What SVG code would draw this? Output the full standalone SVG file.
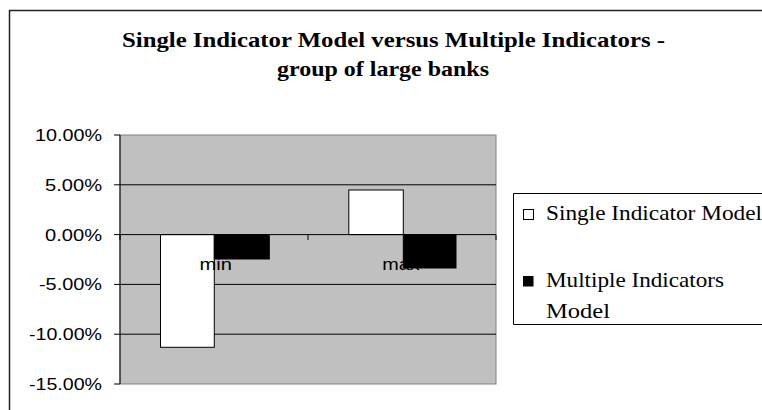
<svg xmlns="http://www.w3.org/2000/svg" width="762" height="410" viewBox="0 0 762 410">
  <style>
    .title { font-family: 'Liberation Serif', 'DejaVu Serif', 'Times New Roman', Times, serif; font-weight: bold; font-size: 22px; fill: #000; }
    .axis { font-family: 'Liberation Sans', Arial, Helvetica, sans-serif; font-size: 17px; fill: #000; }
    .legend { font-family: 'Liberation Serif', 'DejaVu Serif', 'Times New Roman', Times, serif; font-size: 21px; fill: #000; }
    .grid { stroke: #000; stroke-width: 1; }
    .tick { stroke: #000; stroke-width: 1; }
    .bar-single { fill: #fff; stroke: #000; stroke-width: 1; }
    .bar-multi { fill: #000; stroke: #000; stroke-width: 1; }
  </style>

  <!-- white page -->
  <rect x="0" y="0" width="762" height="410" fill="#fff"/>

  <!-- chart frame (continues past the right and bottom edges) -->
  <g id="chart-frame">
    <path d="M9.5 411 V10.5 H763" fill="none" stroke="#222" stroke-width="1.5"/>
  </g>

  <!-- title -->
  <g id="title">
    <text class="title" x="122" y="47" textLength="543" lengthAdjust="spacingAndGlyphs">Single Indicator Model versus Multiple Indicators -</text>
    <text class="title" x="277" y="76" textLength="212" lengthAdjust="spacingAndGlyphs">group of large banks</text>
  </g>

  <!-- plot area -->
  <g id="plot-area">
    <rect x="120" y="135" width="376" height="249" fill="#c0c0c0" stroke="#808080" stroke-width="1"/>
    <g id="gridlines">
      <line class="grid" x1="120" y1="184.8" x2="496" y2="184.8"/>
      <line class="grid" x1="120" y1="284.4" x2="496" y2="284.4"/>
      <line class="grid" x1="120" y1="334.2" x2="496" y2="334.2"/>
    </g>
  </g>

  <!-- value axis -->
  <g id="value-axis">
    <line class="tick" x1="120" y1="135" x2="120" y2="384"/>
    <line class="tick" x1="114" y1="135" x2="120" y2="135"/>
    <line class="tick" x1="114" y1="184.8" x2="120" y2="184.8"/>
    <line class="tick" x1="114" y1="234.6" x2="120" y2="234.6"/>
    <line class="tick" x1="114" y1="284.4" x2="120" y2="284.4"/>
    <line class="tick" x1="114" y1="334.2" x2="120" y2="334.2"/>
    <line class="tick" x1="114" y1="384" x2="120" y2="384"/>
    <text class="axis" x="102" y="141" text-anchor="end" textLength="67" lengthAdjust="spacingAndGlyphs">10.00%</text>
    <text class="axis" x="102" y="191" text-anchor="end" textLength="57" lengthAdjust="spacingAndGlyphs">5.00%</text>
    <text class="axis" x="102" y="240.5" text-anchor="end" textLength="57" lengthAdjust="spacingAndGlyphs">0.00%</text>
    <text class="axis" x="102" y="290.3" text-anchor="end" textLength="63" lengthAdjust="spacingAndGlyphs">-5.00%</text>
    <text class="axis" x="102" y="340" text-anchor="end" textLength="73" lengthAdjust="spacingAndGlyphs">-10.00%</text>
    <text class="axis" x="102" y="390" text-anchor="end" textLength="73" lengthAdjust="spacingAndGlyphs">-15.00%</text>
  </g>

  <!-- Single Indicator Model series -->
  <g id="series-single">
    <rect id="single-min" class="bar-single" x="160.5" y="234.6" width="53.8" height="112.7"/>
    <rect id="single-max" class="bar-single" x="348.8" y="190" width="54.5" height="44.6"/>
  </g>

  <!-- category axis along the zero line -->
  <g id="category-axis">
    <line class="tick" x1="120" y1="234.6" x2="496" y2="234.6"/>
    <line class="tick" x1="120" y1="234.6" x2="120" y2="240"/>
    <line class="tick" x1="308" y1="234.6" x2="308" y2="240"/>
    <line class="tick" x1="496" y1="234.6" x2="496" y2="240"/>
    <text class="axis" x="199.5" y="270" textLength="32.4" lengthAdjust="spacingAndGlyphs">min</text>
    <text class="axis" x="382.3" y="270" textLength="37.5" lengthAdjust="spacingAndGlyphs">max</text>
  </g>

  <!-- Multiple Indicators Model series -->
  <g id="series-multi">
    <rect id="multi-min" class="bar-multi" x="214.3" y="234.6" width="55" height="24.4"/>
    <rect id="multi-max" class="bar-multi" x="403.3" y="234.6" width="52.7" height="33.4"/>
  </g>

  <!-- legend (box continues past the right edge) -->
  <g id="legend">
    <path d="M765 193.5 H513.5 V324.5 H765" fill="#fff" stroke="#000" stroke-width="1"/>
    <g id="legend-single">
      <rect x="523.5" y="209.5" width="10" height="10" fill="#fff" stroke="#000" stroke-width="1"/>
      <text class="legend" x="546" y="220" textLength="216" lengthAdjust="spacingAndGlyphs">Single Indicator Model</text>
    </g>
    <g id="legend-multi">
      <rect x="523" y="276" width="10.5" height="10.5" fill="#000"/>
      <text class="legend" x="546" y="286.7" textLength="178" lengthAdjust="spacingAndGlyphs">Multiple Indicators</text>
      <text class="legend" x="546" y="318.3" textLength="64" lengthAdjust="spacingAndGlyphs">Model</text>
    </g>
  </g>
</svg>
